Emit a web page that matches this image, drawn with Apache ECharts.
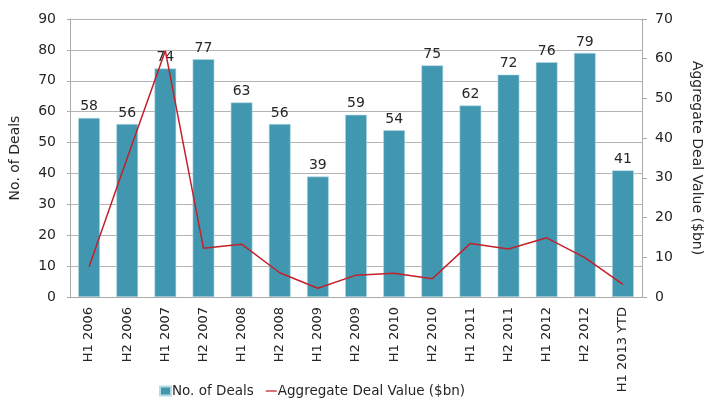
<!DOCTYPE html>
<html>
<head>
<meta charset="utf-8">
<script src="https://cdn.jsdelivr.net/npm/echarts@6/dist/echarts.min.js"></script>
<style>
  html, body { margin: 0; padding: 0; background: #fff; }
  #chart { width: 708px; height: 403px; }
</style>
</head>
<body>
<div id="chart"></div>
<script>
// 数据：半年度交易数量与总交易额
const categories = ['H1 2006', 'H2 2006', 'H1 2007', 'H2 2007', 'H1 2008', 'H2 2008', 'H1 2009',
  'H2 2009', 'H1 2010', 'H2 2010', 'H1 2011', 'H2 2011', 'H1 2012', 'H2 2012', 'H1 2013 YTD'];
const dealCounts = [58, 56, 74, 77, 63, 56, 39, 59, 54, 75, 62, 72, 76, 79, 41];
const dealValues = [7.6, 35, 62, 12.3, 13.3, 6.1, 2.2, 5.5, 6.0, 4.6, 13.5, 12.1, 14.9, 9.9, 3.2];

const FONT = '"DejaVu Sans", sans-serif';
const TEXT = '#262626';

const chart = echarts.init(document.getElementById('chart'));

const option = {
  animation: false,
  textStyle: { fontFamily: FONT },
  grid: { left: 70, right: 66, top: 19, bottom: 106, outerBoundsMode: 'none' },
  legend: {
    bottom: 0,
    left: 154,
    itemGap: 12,
    itemWidth: 11,
    itemHeight: 9,
    textStyle: { fontSize: 13.5, color: TEXT, fontFamily: FONT, padding: [0, 0, 0, -4] },
    data: [
      { name: 'No. of Deals', icon: 'rect' },
      { name: 'Aggregate Deal Value ($bn)', icon: 'path://M0,4 L14,4 L14,5.6 L0,5.6 Z' }
    ]
  },
  xAxis: {
    type: 'category',
    data: categories,
    axisLine: { lineStyle: { color: '#aaa' } },
    axisTick: { show: false },
    axisLabel: { rotate: 90, color: TEXT, fontSize: 13, margin: 10, interval: 0 }
  },
  yAxis: [
    {
      type: 'value',
      name: 'No. of Deals',
      nameLocation: 'middle',
      nameGap: 48,
      nameTextStyle: { fontSize: 14, color: TEXT },
      min: 0, max: 90, interval: 10,
      axisLine: { show: true, lineStyle: { color: '#aaa' } },
      axisTick: { show: true, length: 3, lineStyle: { color: '#aaa' } },
      axisLabel: { color: TEXT, fontSize: 14, margin: 14 },
      splitLine: { lineStyle: { color: '#b4b4b4' } }
    },
    {
      type: 'value',
      name: 'Aggregate Deal Value ($bn)',
      nameLocation: 'middle',
      nameRotate: -90,
      nameGap: 48,
      nameTextStyle: { fontSize: 14, color: TEXT },
      min: 0, max: 70, interval: 10,
      position: 'right',
      axisLine: { show: true, lineStyle: { color: '#aaa' } },
      axisTick: { show: true, length: 5, lineStyle: { color: '#aaa' } },
      axisLabel: { color: TEXT, fontSize: 14, margin: 13 },
      splitLine: { show: false }
    }
  ],
  series: [
    {
      name: 'No. of Deals',
      type: 'bar',
      data: dealCounts,
      barWidth: '57%',
      itemStyle: { color: '#4297b0', borderColor: '#b5dbe6', borderWidth: 0.6 },
      label: { show: true, position: 'top', distance: 4, color: TEXT, fontSize: 14 }
    },
    {
      name: 'Aggregate Deal Value ($bn)',
      type: 'line',
      yAxisIndex: 1,
      data: dealValues,
      symbol: 'none',
      lineStyle: { color: '#c3202a', width: 1.5 },
      itemStyle: { color: '#c3202a' },
      z: 5
    }
  ]
};

chart.setOption(option);
</script>
</body>
</html>
